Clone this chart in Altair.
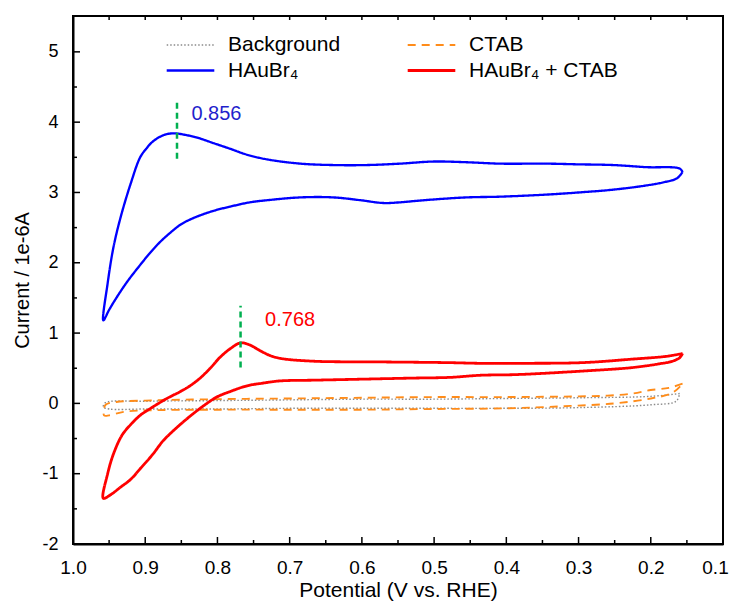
import altair as alt
import pandas as pd

FONT = "Liberation Sans"

# ---------------- data ----------------
series_names = ["Background", "CTAB", "HAuBr₄", "HAuBr₄ + CTAB"]
series_colors = ["#8a8a8a", "#ff8c1a", "#0000ff", "#ff0000"]
series_dashes = [[1.5, 2], [8, 6], [1, 0], [1, 0]]
series_widths = [1.4, 2.8, 2.5, 2.5]

bg_x = [0.160, 0.20, 0.30, 0.40, 0.50, 0.60, 0.70, 0.80, 0.90, 0.955,
        0.958, 0.95, 0.90, 0.80, 0.70, 0.60, 0.50, 0.40, 0.30, 0.20, 0.165, 0.160]
bg_y = [0.14, 0.10, 0.08, 0.07, 0.06, 0.06, 0.05, 0.04, 0.03, 0.01,
        -0.05, -0.08, -0.08, -0.08, -0.07, -0.07, -0.07, -0.07, -0.06, -0.02, 0.03, 0.14]

ctab_x = [0.156, 0.175, 0.20, 0.225, 0.26, 0.30, 0.40, 0.50, 0.60, 0.70, 0.80, 0.90, 0.940, 0.955,
          0.957, 0.950, 0.93, 0.90, 0.80, 0.70, 0.60, 0.50, 0.40, 0.32, 0.25, 0.20, 0.17, 0.156]
ctab_y = [0.28, 0.22, 0.19, 0.14, 0.11, 0.10, 0.09, 0.09, 0.08, 0.07, 0.06, 0.04, 0.02, -0.02,
          -0.17, -0.17, -0.12, -0.10, -0.09, -0.09, -0.09, -0.08, -0.07, -0.04, 0.00, 0.07, 0.15, 0.28]

au_x = [0.156, 0.160, 0.206, 0.252, 0.30, 0.344, 0.409, 0.455, 0.501, 0.547, 0.593, 0.640, 0.685,
        0.731, 0.760, 0.782, 0.805, 0.828, 0.845, 0.858, 0.870, 0.880, 0.890, 0.898, 0.907, 0.920,
        0.934, 0.944, 0.952, 0.958,
        0.950, 0.940, 0.925, 0.910, 0.895, 0.880, 0.865, 0.850, 0.830, 0.805, 0.782, 0.755, 0.731,
        0.685, 0.640, 0.602, 0.570, 0.547, 0.525, 0.501, 0.455, 0.409, 0.344, 0.30, 0.252, 0.206,
        0.180, 0.164, 0.156]
au_y = [3.29, 3.34, 3.36, 3.39, 3.40, 3.41, 3.41, 3.43, 3.44, 3.41, 3.39, 3.39, 3.41,
        3.47, 3.54, 3.62, 3.70, 3.78, 3.82, 3.84, 3.83, 3.79, 3.72, 3.63, 3.50, 3.13,
        2.65, 2.22, 1.71, 1.18,
        1.33, 1.50, 1.73, 1.93, 2.12, 2.29, 2.43, 2.55, 2.65, 2.74, 2.80, 2.86, 2.89,
        2.93, 2.93, 2.89, 2.85, 2.86, 2.88, 2.90, 2.93, 2.94, 2.97, 3.00, 3.04, 3.10,
        3.15, 3.20, 3.29]

auc_x = [0.156, 0.178, 0.225, 0.294, 0.385, 0.436, 0.482, 0.575, 0.667, 0.713, 0.727, 0.741,
         0.755, 0.768, 0.782, 0.796, 0.810, 0.824, 0.838, 0.851, 0.870, 0.897, 0.907, 0.920,
         0.932, 0.944, 0.952, 0.958,
         0.948, 0.934, 0.920, 0.907, 0.890, 0.875, 0.858, 0.840, 0.820, 0.801, 0.782, 0.759,
         0.736, 0.713, 0.667, 0.620, 0.529, 0.478, 0.436, 0.385, 0.294, 0.225, 0.190, 0.170,
         0.160, 0.156]
auc_y = [0.71, 0.67, 0.63, 0.58, 0.57, 0.57, 0.58, 0.59, 0.60, 0.64, 0.68, 0.75,
         0.83, 0.86, 0.78, 0.66, 0.50, 0.36, 0.25, 0.17, 0.07, -0.10, -0.17, -0.30,
         -0.45, -0.72, -1.00, -1.35,
         -1.30, -1.19, -1.08, -0.93, -0.73, -0.53, -0.36, -0.20, -0.04, 0.09, 0.17, 0.25,
         0.29, 0.32, 0.33, 0.34, 0.36, 0.37, 0.40, 0.41, 0.46, 0.51, 0.56, 0.60,
         0.65, 0.71]

peak_x = [0.856, 0.768]
peak_y_low = [3.48, 0.51]
peak_y_high = [4.31, 1.39]
peak_labels = ["0.856", "0.768"]
peak_label_x = [0.836, 0.734]
peak_label_y = [4.11, 1.18]
peak_label_colors = ["#1f1fcc", "#ff0000"]

x_major = [1.0, 0.9, 0.8, 0.7, 0.6, 0.5, 0.4, 0.3, 0.2, 0.1]
x_minor = [0.95, 0.85, 0.75, 0.65, 0.55, 0.45, 0.35, 0.25, 0.15]
y_major = [-2, -1, 0, 1, 2, 3, 4, 5]
y_minor = [-1.5, -0.5, 0.5, 1.5, 2.5, 3.5, 4.5]

# ---------------- tables ----------------
rows = []
for name, xs_, ys_ in zip(series_names, [bg_x, ctab_x, au_x, auc_x], [bg_y, ctab_y, au_y, auc_y]):
    for i, (a, b) in enumerate(zip(xs_, ys_)):
        rows.append({"series": name, "potential": a, "current": b, "order": i})
curves = pd.DataFrame(rows)

peaks = pd.DataFrame({"potential": peak_x, "lo": peak_y_low, "hi": peak_y_high})
labels = pd.DataFrame({"potential": peak_label_x, "current": peak_label_y,
                       "text": peak_labels, "col": peak_label_colors})
xmaj = pd.DataFrame({"potential": x_major})
xmin = pd.DataFrame({"potential": x_minor})
xall = pd.DataFrame({"potential": sorted(x_major + x_minor)})
ymaj = pd.DataFrame({"current": y_major})
ymin = pd.DataFrame({"current": y_minor})

W, H = 650, 528
xs = alt.Scale(domain=[0.1, 1.0], reverse=True, nice=False, zero=False)
ys = alt.Scale(domain=[-2, 5.51], nice=False, zero=False)

x_axis = alt.Axis(values=x_major, format=".1f", ticks=False, grid=False, labelFlush=False,
                  labelOverlap=False, domainColor="black", domainWidth=2,
                  labelFont=FONT, labelFontSize=19, labelColor="black", labelPadding=14,
                  labelOffset={"condition": {"test": "datum.value < 0.15", "value": -8}, "value": 0},
                  titleFont=FONT, titleFontSize=21, titleFontWeight="normal", titleColor="black",
                  titleY=52, titleBaseline="alphabetic")
y_axis = alt.Axis(values=y_major, ticks=False, grid=False, labelFlush=False,
                  labelExpr="'' + datum.value",
                  labelOverlap=False, domainColor="black", domainWidth=2,
                  labelFont=FONT, labelFontSize=18, labelColor="black", labelPadding=15,
                  titleFont=FONT, titleFontSize=20, titleFontWeight="normal", titleColor="black",
                  titleX=-45, titleY=264, titleAngle=-90, titleBaseline="alphabetic",
                  titleAlign="center")

X_TITLE = "Potential (V vs. RHE)"
Y_TITLE = "Current / 1e-6A"


def X(field):
    return alt.X(field, type="quantitative", scale=xs, axis=x_axis, title=X_TITLE)


def Y(field):
    return alt.Y(field, type="quantitative", scale=ys, axis=y_axis, title=Y_TITLE)


legend = alt.Legend(title=None, orient="none", legendX=102, legendY=14, columns=2,
                    direction="horizontal",
                    columnPadding=61, rowPadding=0, symbolType="M-1.7,0H1.7", symbolSize=784,
                    symbolStrokeWidth=2.5, labelFont=FONT, labelFontSize=21,
                    labelColor="black", labelOffset=22, padding=0)

lines = alt.Chart(curves).mark_line(interpolate="catmull-rom").encode(
    x=X("potential"),
    y=Y("current"),
    color=alt.Color("series:N", scale=alt.Scale(domain=series_names, range=series_colors),
                    sort=series_names, legend=legend),
    strokeDash=alt.StrokeDash("series:N", scale=alt.Scale(domain=series_names, range=series_dashes),
                              sort=series_names, legend=legend),
    strokeWidth=alt.StrokeWidth("series:N", scale=alt.Scale(domain=series_names, range=series_widths),
                                legend=None),
    order="order:Q",
)

markers = alt.Chart(peaks).mark_rule(color="#00b050", strokeWidth=2.5, strokeDash=[6, 4]).encode(
    x=X("potential"),
    y=Y("lo"),
    y2="hi:Q",
)

texts = alt.Chart(labels).mark_text(align="left", baseline="middle", font=FONT, fontSize=20).encode(
    x=X("potential"),
    y=Y("current"),
    text="text:N",
    color=alt.Color("col:N", scale=None),
)


def xticks(df, y0, y1):
    return alt.Chart(df).mark_rule(color="black", strokeWidth=1.5).encode(
        x=X("potential"), y=alt.value(y0), y2=alt.value(y1))


def yticks(df, x0, x1):
    return alt.Chart(df).mark_rule(color="black", strokeWidth=1.5).encode(
        y=Y("current"), x=alt.value(x0), x2=alt.value(x1))


chart = alt.layer(
    lines, markers, texts,
    xticks(xmaj, H, H - 7), xticks(xmin, H, H - 4), xticks(xall, 0, 4),
    yticks(ymaj, 0, 7), yticks(ymin, 0, 4),
).properties(
    width=W, height=H,
    padding={"left": 73, "top": 16, "right": 9, "bottom": 59},
    autosize=alt.AutoSizeParams(type="none"),
    background="white",
).configure_view(stroke="black", strokeWidth=2)

chart.save("out.html", embed_options={"renderer": "svg", "actions": False})
